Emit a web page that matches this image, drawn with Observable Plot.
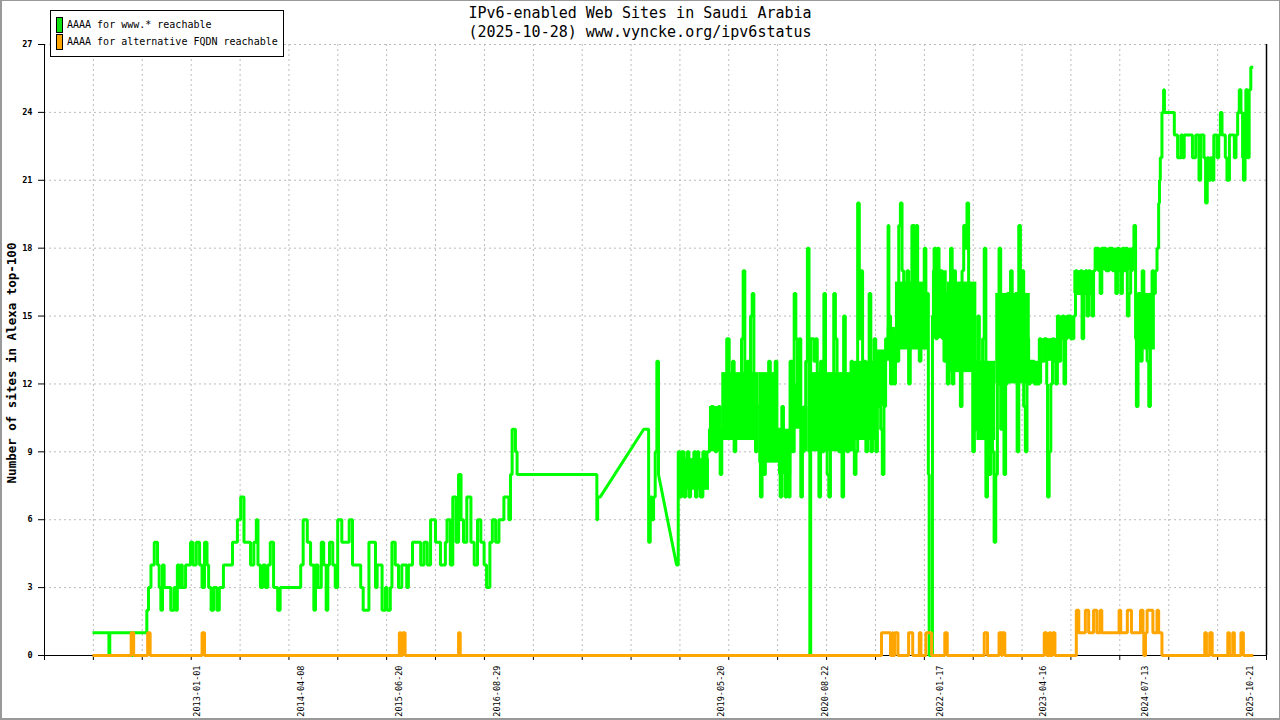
<!DOCTYPE html>
<html>
<head>
<meta charset="utf-8">
<script src="https://cdn.jsdelivr.net/npm/d3@7"></script>
<script src="https://cdn.jsdelivr.net/npm/@observablehq/plot@0.6"></script>
<style>
  html, body { margin: 0; padding: 0; background: #fff; }
  #wrap { position: relative; width: 1280px; height: 720px; overflow: hidden; background: #fff; font-family: "DejaVu Sans Mono", monospace; }
  #wrap svg { position: absolute; left: 0; top: 0; }
  #border { position: absolute; left: 0; top: 0; width: 1280px; height: 720px; box-sizing: border-box; border: 1px solid #999; border-left-width: 2px; border-bottom-width: 2px; pointer-events: none; }
  #title { position: absolute; left: 0; top: 4px; width: 1280px; text-align: center; font-size: 15px; line-height: 19px; color: #000; }
  #legend { position: absolute; left: 50px; top: 10px; width: 232px; height: 45px; border: 1px solid #000; background: #fff; }
  .row { position: absolute; left: 0; height: 16px; }
  .sw { position: absolute; left: 5px; top: 0; width: 5px; height: 14px; border: 1px solid #000; }
  .lab { position: absolute; left: 16px; top: 0; font-size: 10px; line-height: 16px; white-space: nowrap; color: #000; }
</style>
</head>
<body>
<div id="wrap">
  <div id="title">IPv6-enabled Web Sites in Saudi Arabia<br>(2025-10-28) www.vyncke.org/ipv6status</div>
  <div id="legend"></div>
  <div id="border"></div>
</div>
<script>
// ---------------- data (decimal years, counts) ----------------
const seriesNames = ["AAAA for www.* reachable", "AAAA for alternative FQDN reachable"];
const seriesColors = ["#00ff00", "#ffa500"];
const swatchColors = ["#11e011", "#ffa500"];

const xDomainYears = [2011.116, 2025.971];
const yTicks = [0, 3, 6, 9, 12, 15, 18, 21, 24, 27];
const xLabels = ["2013-01-01", "2014-04-08", "2015-06-20", "2016-08-29", "2019-05-20",
                 "2020-08-22", "2022-01-17", "2023-04-16", "2024-07-13", "2025-10-21"];
const gridDivisions = 25;

// segments drawn as straight lines (gap in the data) start at these years
const interpolatedAfter = [2017.87, 2018.58];

const wwwReachable = [
[2011.70,1],[2011.90,0],[2011.91,1],[2012.18,0],[2012.19,1],[2012.36,2],[2012.38,3],[2012.41,4],[2012.45,5],
[2012.49,4],[2012.51,3],[2012.53,2],[2012.55,4],[2012.57,3],[2012.65,2],[2012.69,3],[2012.71,2],[2012.73,4],
[2012.75,3],[2012.77,4],[2012.79,3],[2012.83,4],[2012.89,5],[2012.92,4],[2012.96,5],[2013.00,4],[2013.03,3],
[2013.06,5],[2013.09,4],[2013.11,3],[2013.14,2],[2013.17,3],[2013.21,2],[2013.24,3],[2013.29,4],[2013.40,5],
[2013.46,6],[2013.50,7],[2013.54,5],[2013.62,4],[2013.66,5],[2013.69,6],[2013.71,4],[2013.74,3],[2013.77,4],
[2013.80,3],[2013.83,4],[2013.86,5],[2013.90,3],[2013.95,2],[2013.98,3],[2014.23,4],[2014.26,6],[2014.31,5],
[2014.35,4],[2014.39,2],[2014.41,4],[2014.44,3],[2014.48,5],[2014.51,4],[2014.54,2],[2014.56,4],[2014.58,5],
[2014.62,4],[2014.65,3],[2014.68,6],[2014.73,5],[2014.82,6],[2014.86,4],[2014.96,3],[2014.99,2],[2015.06,5],
[2015.14,3],[2015.16,4],[2015.22,2],[2015.26,3],[2015.28,2],[2015.32,3],[2015.34,5],[2015.38,4],[2015.42,3],
[2015.46,4],[2015.52,3],[2015.54,4],[2015.59,5],[2015.69,4],[2015.73,5],[2015.77,4],[2015.81,6],[2015.87,5],
[2015.93,4],[2015.99,5],[2016.01,6],[2016.05,4],[2016.08,7],[2016.12,5],[2016.15,8],[2016.18,6],[2016.21,5],
[2016.25,7],[2016.30,5],[2016.34,4],[2016.38,6],[2016.42,5],[2016.46,4],[2016.49,3],[2016.53,5],[2016.56,6],
[2016.60,5],[2016.64,6],[2016.70,7],[2016.76,6],[2016.78,8],[2016.80,10],[2016.84,9],[2016.86,8],[2017.83,6],
[2017.84,7],[2017.87,7],[2018.40,10],[2018.44,10],[2018.46,5],[2018.48,7],[2018.50,6],[2018.52,7],[2018.54,9],
[2018.56,13],[2018.58,8],[2018.80,4],[2018.82,9],[2018.84,7],[2018.86,9],[2018.89,7],[2018.91,8],[2018.93,9],
[2018.95,7],[2018.97,8],[2019.01,9],[2019.03,7],[2019.05,9],[2019.07,8],[2019.09,7],[2019.12,9],[2019.15,8],
[2019.17,9],[2019.20,10],[2019.22,11],[2019.25,10],[2019.27,9],[2019.29,10],[2019.31,11],[2019.33,8],[2019.35,10],
[2019.37,12],[2019.39,11],[2019.41,14],[2019.44,10],[2019.46,11],[2019.48,13],[2019.50,9],[2019.52,12],[2019.54,10],
[2019.57,11],[2019.59,14],[2019.61,17],[2019.63,12],[2019.64,10],[2019.66,13],[2019.68,11],[2019.70,15],[2019.72,16],
[2019.74,12],[2019.76,9],[2019.78,11],[2019.82,7],[2019.84,12],[2019.86,8],[2019.88,11],[2019.90,10],[2019.92,13],
[2019.94,9],[2019.96,10],[2019.98,12],[2020.00,13],[2020.02,9],[2020.04,10],[2020.06,7],[2020.08,11],[2020.10,9],
[2020.12,7],[2020.14,9],[2020.16,7],[2020.18,13],[2020.21,9],[2020.23,16],[2020.25,14],[2020.27,11],[2020.29,14],
[2020.31,7],[2020.33,9],[2020.35,11],[2020.37,13],[2020.39,18],[2020.41,9],[2020.42,0],[2020.43,14],[2020.47,13],
[2020.49,14],[2020.51,12],[2020.53,7],[2020.55,13],[2020.57,9],[2020.59,16],[2020.61,11],[2020.63,8],[2020.65,7],
[2020.67,10],[2020.69,12],[2020.71,16],[2020.73,14],[2020.75,10],[2020.77,9],[2020.79,11],[2020.81,7],[2020.83,15],
[2020.85,10],[2020.87,9],[2020.89,11],[2020.92,13],[2020.94,11],[2020.96,8],[2020.98,9],[2021.00,20],[2021.02,14],
[2021.04,17],[2021.06,10],[2021.08,13],[2021.10,9],[2021.12,10],[2021.14,16],[2021.16,9],[2021.18,12],[2021.20,14],
[2021.22,9],[2021.24,11],[2021.26,13],[2021.28,10],[2021.30,8],[2021.32,11],[2021.34,14],[2021.37,19],[2021.38,15],
[2021.40,12],[2021.42,13],[2021.44,12],[2021.46,14],[2021.48,13],[2021.50,19],[2021.52,20],[2021.54,17],[2021.56,16],
[2021.58,15],[2021.60,17],[2021.62,12],[2021.64,15],[2021.66,19],[2021.69,14],[2021.71,19],[2021.73,15],[2021.75,13],
[2021.77,15],[2021.79,16],[2021.81,18],[2021.83,14],[2021.84,16],[2021.86,8],[2021.87,0],[2021.90,0],[2021.91,15],
[2021.93,18],[2021.95,14],[2021.97,18],[2021.99,15],[2022.01,17],[2022.03,14],[2022.05,13],[2022.07,16],[2022.09,12],
[2022.11,14],[2022.13,18],[2022.15,12],[2022.17,17],[2022.19,15],[2022.21,14],[2022.23,13],[2022.25,11],[2022.27,17],
[2022.29,19],[2022.31,18],[2022.33,20],[2022.35,16],[2022.37,13],[2022.40,9],[2022.42,13],[2022.44,10],[2022.46,15],
[2022.48,12],[2022.50,11],[2022.52,14],[2022.54,18],[2022.56,7],[2022.58,10],[2022.60,8],[2022.62,12],[2022.64,9],
[2022.66,5],[2022.68,8],[2022.70,12],[2022.72,18],[2022.74,10],[2022.76,15],[2022.78,8],[2022.80,12],[2022.82,16],
[2022.84,13],[2022.86,17],[2022.88,15],[2022.90,14],[2022.92,16],[2022.94,9],[2022.96,19],[2022.98,13],[2023.00,17],
[2023.02,11],[2023.04,9],[2023.06,14],[2023.08,12],[2023.10,13],[2023.15,12],[2023.21,14],[2023.23,13],[2023.27,14],
[2023.30,12],[2023.31,7],[2023.33,9],[2023.35,12],[2023.37,14],[2023.39,13],[2023.41,12],[2023.43,15],[2023.45,13],
[2023.47,14],[2023.49,15],[2023.51,12],[2023.53,14],[2023.55,15],[2023.59,14],[2023.63,15],[2023.65,17],[2023.67,16],
[2023.71,17],[2023.73,14],[2023.75,16],[2023.77,17],[2023.79,15],[2023.81,17],[2023.83,16],[2023.85,15],[2023.87,17],
[2023.89,18],[2023.93,17],[2023.95,16],[2023.97,18],[2024.02,17],[2024.06,18],[2024.10,17],[2024.14,16],[2024.16,18],
[2024.18,17],[2024.20,16],[2024.22,18],[2024.24,17],[2024.26,18],[2024.28,15],[2024.30,16],[2024.32,17],[2024.34,18],
[2024.36,19],[2024.38,14],[2024.39,11],[2024.41,16],[2024.44,13],[2024.46,17],[2024.48,15],[2024.50,14],[2024.52,13],
[2024.54,11],[2024.56,15],[2024.58,17],[2024.60,16],[2024.62,17],[2024.64,18],[2024.66,20],[2024.67,21],[2024.68,22],
[2024.70,24],[2024.72,25],[2024.73,24],[2024.85,23],[2024.89,22],[2024.93,23],[2024.95,22],[2024.97,23],[2025.07,22],
[2025.11,23],[2025.15,21],[2025.17,23],[2025.21,22],[2025.23,20],[2025.25,22],[2025.27,21],[2025.29,22],[2025.31,21],
[2025.33,23],[2025.37,22],[2025.39,23],[2025.41,24],[2025.43,23],[2025.47,22],[2025.49,21],[2025.52,23],[2025.58,22],
[2025.60,23],[2025.62,24],[2025.64,25],[2025.66,24],[2025.68,22],[2025.69,21],[2025.71,24],[2025.72,25],[2025.74,22],
[2025.76,25],[2025.78,26],[2025.81,26]
];

// ranges where the daily www.* count flips back and forth so fast that the line fills a band
// [from year, to year, low count, high count]
const wwwDenseBands = [
[2018.82,2019.20,7.3,8.7],[2019.20,2019.35,9,11],[2019.35,2019.80,9.5,12.5],[2019.80,2020.04,8.5,12.5],
[2020.04,2020.20,8,10],[2020.20,2020.31,10,12],[2020.31,2020.40,9,11],[2020.44,2020.96,9,12.5],
[2020.96,2021.24,9.5,13],[2021.24,2021.36,11,13.5],[2021.36,2021.46,13,14.5],[2021.46,2021.85,13.5,16.5],
[2021.91,2022.09,14,17],[2022.09,2022.45,12.5,16.5],[2022.45,2022.68,9.5,13],[2022.68,2023.10,12,16],
[2023.10,2023.25,12,13],[2023.25,2023.42,13,14],[2023.42,2023.63,14,15],[2023.63,2023.88,16,17],
[2023.88,2024.37,17,18],[2024.40,2024.62,13.5,16]
];

const altReachable = [
[2011.70,0],[2012.17,1],[2012.20,0],[2012.37,1],[2012.40,0],[2013.03,1],[2013.06,0],[2015.43,1],[2015.45,0],
[2015.47,1],[2015.50,0],[2016.15,1],[2016.17,0],[2021.29,1],[2021.40,0],[2021.42,1],[2021.43,0],[2021.45,1],
[2021.49,0],[2021.62,1],[2021.67,0],[2021.75,1],[2021.77,0],[2021.83,1],[2021.90,0],[2022.06,1],[2022.09,0],
[2022.54,1],[2022.58,0],[2022.72,1],[2022.75,0],[2022.76,1],[2022.79,0],[2023.27,1],[2023.30,0],[2023.33,1],
[2023.35,0],[2023.37,1],[2023.40,0],[2023.66,2],[2023.69,1],[2023.77,2],[2023.81,1],[2023.87,2],[2023.91,1],
[2023.95,2],[2023.97,1],[2024.18,2],[2024.20,1],[2024.28,2],[2024.33,1],[2024.44,2],[2024.47,1],[2024.48,0],
[2024.50,1],[2024.52,2],[2024.59,1],[2024.64,2],[2024.66,1],[2024.70,0],[2025.22,1],[2025.24,0],[2025.28,1],
[2025.31,0],[2025.50,1],[2025.52,0],[2025.56,1],[2025.58,0],[2025.66,1],[2025.69,0],[2025.81,0]
];

// ---------------- helpers ----------------
const toDate = y => {
  const Y = Math.floor(y), s = Date.UTC(Y, 0, 1), e = Date.UTC(Y + 1, 0, 1);
  return new Date(s + (y - Y) * (e - s));
};
function stepPoints(data, linearFrom) {
  const out = [];
  data.forEach(([yr, v], i) => {
    out.push({x: toDate(yr), y: v});
    const next = data[i + 1];
    if (next && !linearFrom.includes(yr)) out.push({x: toDate(next[0]), y: v});
  });
  return out;
}
const parseDay = d3.utcParse("%Y-%m-%d");
const [d0, d1] = xDomainYears;
const gridAll = d3.range(gridDivisions + 1).map(i => toDate(d0 + i * (d1 - d0) / gridDivisions));
const gridInner = gridAll.slice(1, gridDivisions);

const green = stepPoints(wwwReachable, interpolatedAfter);
const orange = stepPoints(altReachable, []);

const gridStyle = {stroke: "#bbbbbb", strokeWidth: 1, strokeDasharray: "2,3"};

const chart = Plot.plot({
  width: 1280,
  height: 720,
  marginLeft: 44,
  marginRight: 14,
  marginTop: 44,
  marginBottom: 65,
  style: {fontFamily: "'DejaVu Sans Mono', monospace", background: "transparent", color: "#000"},
  x: {type: "utc", domain: [toDate(d0), toDate(d1)]},
  y: {domain: [0, 27]},
  marks: [
    Plot.ruleY(yTicks.slice(1), gridStyle),
    Plot.ruleX(gridInner, gridStyle),
    Plot.ruleX([gridAll[0]], {stroke: "#000", strokeWidth: 1}),
    Plot.ruleX([gridAll[gridDivisions]], {stroke: "#000", strokeWidth: 1.5}),
    Plot.ruleY([0], {stroke: "#000", strokeWidth: 1}),
    Plot.axisY({ticks: yTicks, tickSize: 6, tickPadding: 6, fontSize: 8.5, fontWeight: "bold", label: null, tickFormat: d => String(d)}),
    Plot.axisX({ticks: gridAll, tickSize: 5, tickFormat: () => "", label: null}),
    Plot.text(xLabels, {x: d => parseDay(d), text: d => d, frameAnchor: "bottom", dy: 10, rotate: -90, textAnchor: "end", fontSize: 8.5, fill: "#000"}),
    Plot.text(["Number of sites in Alexa top-100"], {frameAnchor: "left", dx: -33, dy: 13, rotate: -90, textAnchor: "middle", fontSize: 12.5, fontWeight: "bold", fill: "#000"}),
    Plot.rect(wwwDenseBands, {x1: d => toDate(d[0]), x2: d => toDate(d[1]), y1: d => d[2], y2: d => d[3], fill: seriesColors[0]}),
    Plot.line(green, {x: "x", y: "y", stroke: seriesColors[0], strokeWidth: 3, strokeLinejoin: "miter", strokeLinecap: "butt"}),
    Plot.line(orange, {x: "x", y: "y", stroke: seriesColors[1], strokeWidth: 3, strokeLinejoin: "miter", strokeLinecap: "butt"})
  ]
});
document.getElementById("wrap").insertBefore(chart, document.getElementById("title"));

// legend
const legend = document.getElementById("legend");
seriesNames.forEach((name, i) => {
  const row = document.createElement("div");
  row.className = "row";
  row.style.top = (6 + i * 17) + "px";
  row.style.width = "230px";
  const sw = document.createElement("div");
  sw.className = "sw";
  sw.style.background = swatchColors[i];
  const lab = document.createElement("div");
  lab.className = "lab";
  lab.textContent = name;
  row.appendChild(sw);
  row.appendChild(lab);
  legend.appendChild(row);
});
</script>
</body>
</html>
